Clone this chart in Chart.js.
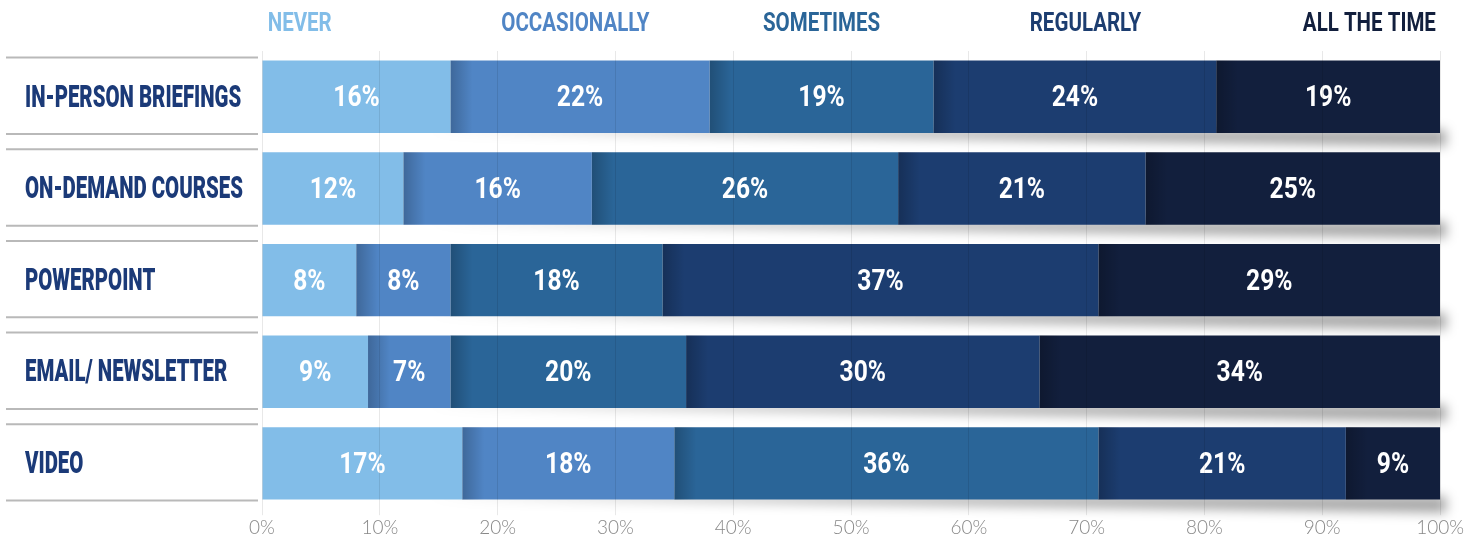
<!DOCTYPE html>
<html>
<head>
<meta charset="utf-8">
<script src="https://cdn.jsdelivr.net/npm/chart.js@4"></script>
<style>
  html, body { margin: 0; padding: 0; background: #fff; }
  #wrap { width: 1465px; height: 540px; }
</style>
</head>
<body>
<div id="wrap"><canvas id="usageChart"></canvas></div>
<script>
// Data
const categories = ['IN-PERSON BRIEFINGS', 'ON-DEMAND COURSES', 'POWERPOINT', 'EMAIL/ NEWSLETTER', 'VIDEO'];
const seriesNames = ['NEVER', 'OCCASIONALLY', 'SOMETIMES', 'REGULARLY', 'ALL THE TIME'];
const never = [16, 12, 8, 9, 17];
const occasionally = [22, 16, 8, 7, 18];
const sometimes = [19, 26, 18, 20, 36];
const regularly = [24, 21, 37, 30, 21];
const allTheTime = [19, 25, 29, 34, 9];
const tickValues = [0, 10, 20, 30, 40, 50, 60, 70, 80, 90, 100];

const colors = ['#82bde8', '#5085c5', '#2a6598', '#1c3d70', '#121f3d'];
// where each legend word sits, as a share of the plot width
const legendCenters = [0.032, 0.266, 0.475, 0.699, 0.94];
const boldFont = 'Roboto, "Liberation Sans", sans-serif';

// the original uses condensed type; squeeze regular glyphs horizontally
function drawSqueezed(ctx, text, x, y, align, sx) {
    const w = ctx.measureText(text).width * sx;
    let left = x;
    if (align === 'center') left = x - w / 2;
    if (align === 'right') left = x - w;
    ctx.save();
    ctx.translate(left, y);
    ctx.scale(sx, 1);
    ctx.textAlign = 'left';
    ctx.fillText(text, 0, 0);
    ctx.restore();
}

const decorPlugin = {
    id: 'decor',
    beforeDatasetsDraw(chart) {
        const ctx = chart.ctx;
        const area = chart.chartArea;
        const meta = chart.getDatasetMeta(0);
        // soft wedge shadow under each bar
        ctx.save();
        ctx.filter = 'blur(6px)';
        ctx.fillStyle = 'rgba(0,0,0,0.36)';
        meta.data.forEach(bar => {
            const bottom = bar.y + bar.height / 2;
            const startX = area.left + (area.right - area.left) * 0.14;
            ctx.beginPath();
            ctx.moveTo(startX, bottom - 3);
            ctx.lineTo(area.right + 6, bottom - 3);
            ctx.lineTo(area.right + 6, bottom + 13);
            ctx.closePath();
            ctx.fill();
        });
        ctx.restore();
    },
    afterDatasetsDraw(chart) {
        const ctx = chart.ctx;
        const area = chart.chartArea;
        // dark fade on the left edge of each segment
        chart.data.datasets.forEach((ds, i) => {
            if (i === 0) return;
            chart.getDatasetMeta(i).data.forEach(bar => {
                const left = Math.min(bar.base, bar.x);
                const top = bar.y - bar.height / 2;
                const g = ctx.createLinearGradient(left, 0, left + 22, 0);
                g.addColorStop(0, 'rgba(0,0,0,0.22)');
                g.addColorStop(1, 'rgba(0,0,0,0)');
                ctx.fillStyle = g;
                ctx.fillRect(left, top, Math.min(22, Math.abs(bar.x - bar.base)), bar.height);
            });
        });
        // value labels
        ctx.save();
        ctx.font = 'bold 30px ' + boldFont;
        ctx.fillStyle = '#ffffff';
        ctx.textBaseline = 'middle';
        chart.data.datasets.forEach((ds, i) => {
            chart.getDatasetMeta(i).data.forEach((bar, j) => {
                const right = Math.min(bar.x, area.right);
                drawSqueezed(ctx, ds.data[j] + '%', (bar.base + right) / 2, bar.y + 2, 'center', 0.82);
            });
        });
        ctx.restore();
    },
    afterDraw(chart) {
        const ctx = chart.ctx;
        const area = chart.chartArea;
        const meta = chart.getDatasetMeta(0);
        ctx.save();
        // separator lines around category labels
        ctx.strokeStyle = '#b9b9b9';
        ctx.lineWidth = 2;
        meta.data.forEach(bar => {
            [bar.y - bar.height / 2 - 3, bar.y + bar.height / 2 + 1].forEach(y => {
                ctx.beginPath();
                ctx.moveTo(6, y);
                ctx.lineTo(area.left - 4, y);
                ctx.stroke();
            });
        });
        // category labels, left aligned, squeezed so the longest fits
        ctx.font = '900 31px ' + boldFont;
        ctx.fillStyle = '#1b3a78';
        ctx.textBaseline = 'middle';
        const labelLeft = 25;
        const room = area.left - labelLeft - 19;
        const longest = Math.max(...categories.map(c => ctx.measureText(c).width));
        const catScale = room / longest;
        meta.data.forEach((bar, j) => {
            drawSqueezed(ctx, categories[j], labelLeft, bar.y + 2, 'left', catScale);
        });
        // legend as coloured words above the plot
        ctx.font = 'bold 25px ' + boldFont;
        const legScale = 0.82;
        const width = area.right - area.left;
        seriesNames.forEach((n, i) => {
            ctx.fillStyle = colors[i];
            drawSqueezed(ctx, n, area.left + width * legendCenters[i], 25, 'center', legScale);
        });
        ctx.restore();
    }
};

const seriesValues = [never, occasionally, sometimes, regularly, allTheTime];

new Chart(document.getElementById('usageChart').getContext('2d'), {
    type: 'bar',
    data: {
        labels: categories,
        datasets: seriesNames.map((name, i) => ({
            label: name,
            data: seriesValues[i],
            backgroundColor: colors[i],
            borderWidth: 0,
            barPercentage: 0.79,
            categoryPercentage: 1
        }))
    },
    options: {
        indexAxis: 'y',
        responsive: true,
        maintainAspectRatio: false,
        animation: false,
        layout: { padding: { top: 51, left: 25, right: 24, bottom: 0 } },
        plugins: {
            legend: { display: false },
            tooltip: { enabled: false }
        },
        scales: {
            x: {
                stacked: true,
                min: 0,
                max: 100,
                afterBuildTicks(axis) {
                    axis.ticks = tickValues.map(v => ({ value: v }));
                },
                ticks: {
                    callback: v => v + '%',
                    color: '#888888',
                    font: { family: 'Lato, "Open Sans", sans-serif', size: 19, weight: '300' },
                    padding: 1
                },
                grid: {
                    color: 'rgba(0,0,0,0.09)',
                    z: 1,
                    tickLength: 6
                },
                border: { display: false }
            },
            y: {
                stacked: true,
                afterFit(axis) { axis.width = 237; },
                ticks: { color: 'rgba(0,0,0,0)' },
                grid: { display: false },
                border: { display: false }
            }
        }
    },
    plugins: [decorPlugin]
});
</script>
</body>
</html>
